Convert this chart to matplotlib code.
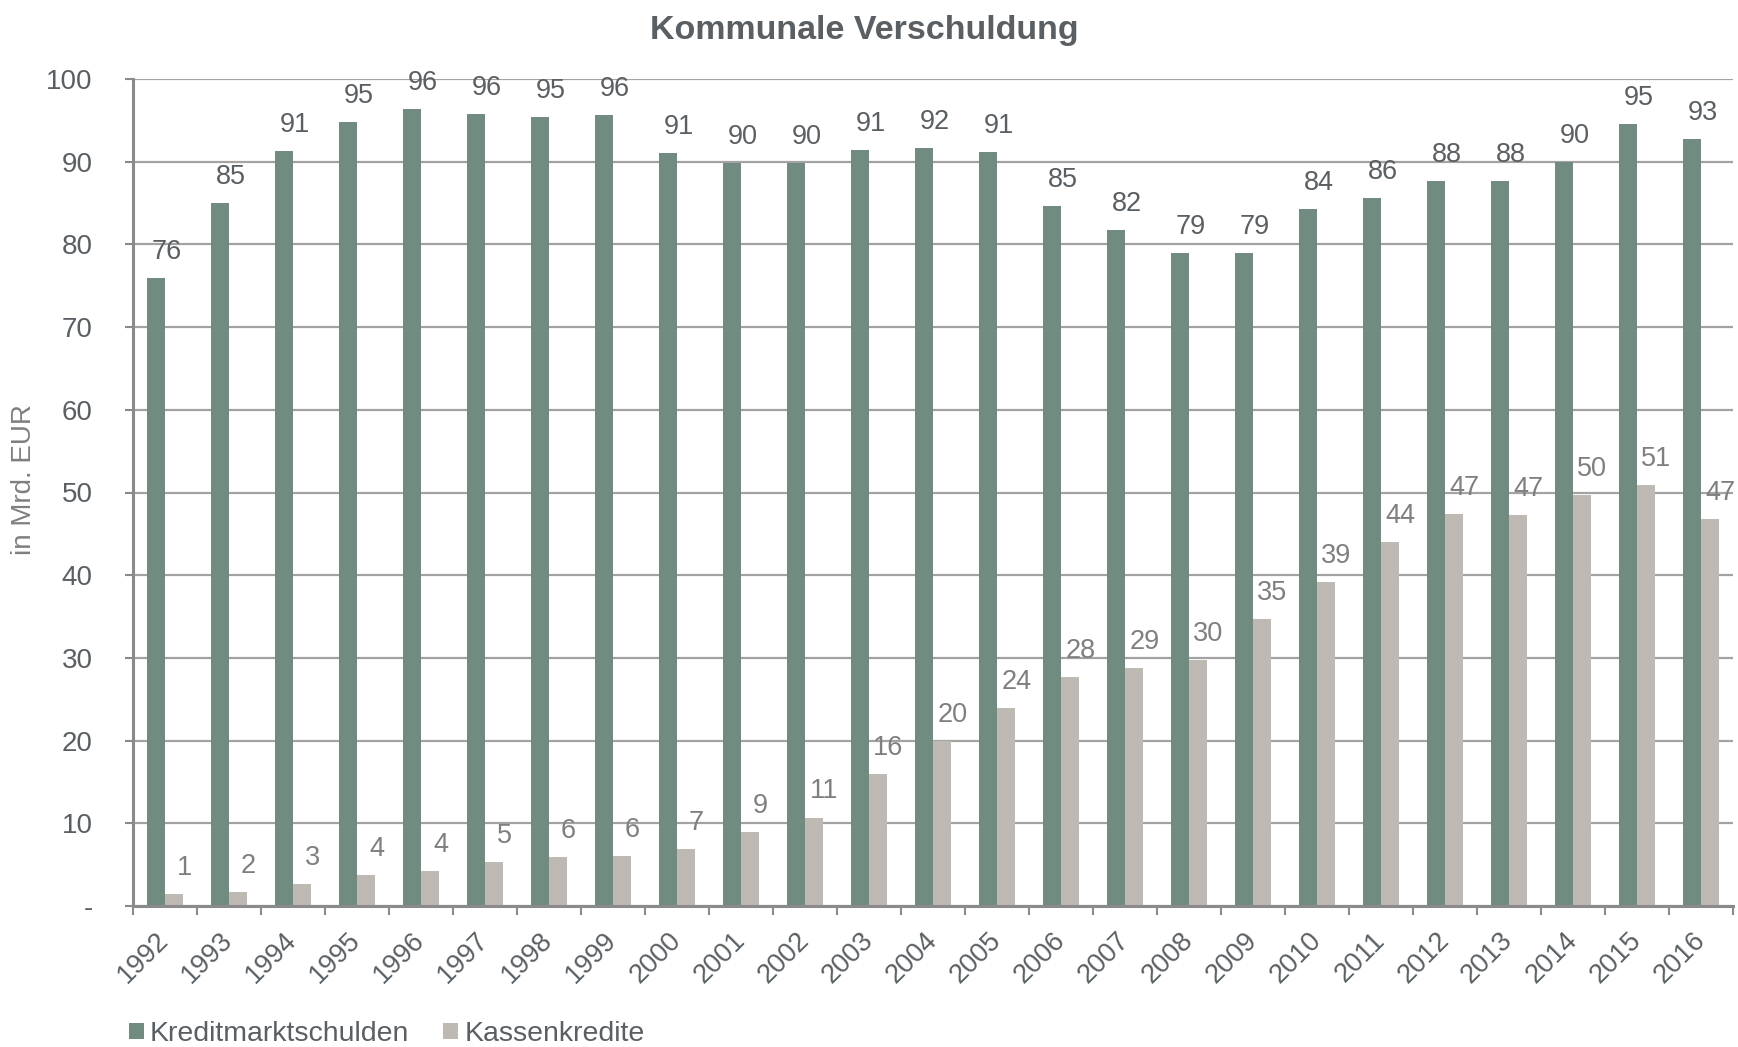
import matplotlib
matplotlib.use("Agg")
import matplotlib.pyplot as plt
from matplotlib.patches import Patch
import numpy as np

plt.rcParams['font.family'] = ['Liberation Sans', 'DejaVu Sans']

years = ["1992", "1993", "1994", "1995", "1996", "1997", "1998", "1999", "2000",
         "2001", "2002", "2003", "2004", "2005", "2006", "2007", "2008", "2009",
         "2010", "2011", "2012", "2013", "2014", "2015", "2016"]
kreditmarkt = [75.9, 85.0, 91.3, 94.8, 96.4, 95.8, 95.4, 95.7, 91.0,
               89.8, 89.8, 91.4, 91.7, 91.2, 84.6, 81.7, 78.9, 79.0,
               84.3, 85.6, 87.7, 87.7, 90.0, 94.6, 92.8]
kassen = [1.4, 1.7, 2.7, 3.75, 4.2, 5.3, 5.9, 6.1, 6.9,
          9.0, 10.7, 16.0, 20.0, 23.9, 27.7, 28.8, 29.8, 34.7,
          39.2, 44.0, 47.4, 47.3, 49.7, 50.9, 46.8]
series_names = ["Kreditmarktschulden", "Kassenkredite"]
yticks = [0, 10, 20, 30, 40, 50, 60, 70, 80, 90, 100]
ytick_labels = ["-", "10", "20", "30", "40", "50", "60", "70", "80", "90", "100"]
title = "Kommunale Verschuldung"
ylabel = "in Mrd. EUR"

GREEN = "#728b80"
GREY = "#bfb9b4"
DARK = "#595f63"
LIGHT = "#7f7f7f"
AXC = "#8a8a8a"
GRIDC = "#a3a3a3"

W, H = 1738, 1047
fig = plt.figure(figsize=(W / 100, H / 100), dpi=100)
ax = fig.add_axes([133 / W, 1 - 906 / H, (1733 - 133) / W, (906 - 79) / H])

x = np.arange(len(years))
bw = 0.28
b1 = ax.bar(x - bw / 2, kreditmarkt, width=bw, color=GREEN, zorder=3)
b2 = ax.bar(x + bw / 2, kassen, width=bw, color=GREY, zorder=3)

for xi, v in zip(x, kreditmarkt):
    ax.annotate(f"{v:.0f}", (xi - bw / 2, v), xytext=(8, 13.7),
                textcoords="offset points", ha="center", va="baseline",
                fontsize=19.5, color=DARK, zorder=4)
for xi, v in zip(x, kassen):
    ax.annotate(f"{v:.0f}", (xi + bw / 2, v), xytext=(7.5, 13.7),
                textcoords="offset points", ha="center", va="baseline",
                fontsize=19.5, color=LIGHT, zorder=4)

ax.set_xlim(-0.5, len(years) - 0.5)
ax.set_ylim(0, 100)
ax.set_yticks(yticks)
ax.set_yticklabels(ytick_labels, fontsize=20, color=DARK)
ax.tick_params(axis="y", direction="out", length=6, width=1.5, color=AXC, pad=23)

ax.set_xticks(x)
ax.set_xticklabels(years, fontsize=19.5, color=DARK, rotation=45,
                   ha="right", va="center", rotation_mode="anchor")
ax.tick_params(axis="x", which="major", length=0, pad=22)
ax.set_xticks(np.arange(-0.5, len(years), 1.0), minor=True)
ax.tick_params(axis="x", which="minor", direction="out", length=6.5, width=1.5, color=AXC)

ax.grid(axis="y", color=GRIDC, linewidth=1.6, zorder=0)
ax.set_axisbelow(True)
for s in ["top", "right"]:
    ax.spines[s].set_visible(False)
for s in ["left", "bottom"]:
    ax.spines[s].set_color(AXC)
    ax.spines[s].set_linewidth(2.2)
    ax.spines[s].set_zorder(5)

fig.text(864 / W, 1 - 38.6 / H, title, ha="center", va="baseline",
         fontsize=24.5, fontweight="bold", color=DARK)
fig.text(24 / W, 1 - 480 / H, ylabel, ha="center", va="center", rotation=90,
         fontsize=20, color=LIGHT)

handles = [Patch(facecolor=GREEN, edgecolor="none"), Patch(facecolor=GREY, edgecolor="none")]
fig.legend(handles, series_names, loc="center left", bbox_to_anchor=(128.5 / W, 1 - 1034 / H),
           ncol=2, frameon=False, fontsize=20.5, handlelength=0.53, handleheight=0.53,
           handletextpad=0.22, columnspacing=1.2, borderpad=0, borderaxespad=0,
           labelcolor=DARK)

fig.savefig("out.png", dpi=100)
